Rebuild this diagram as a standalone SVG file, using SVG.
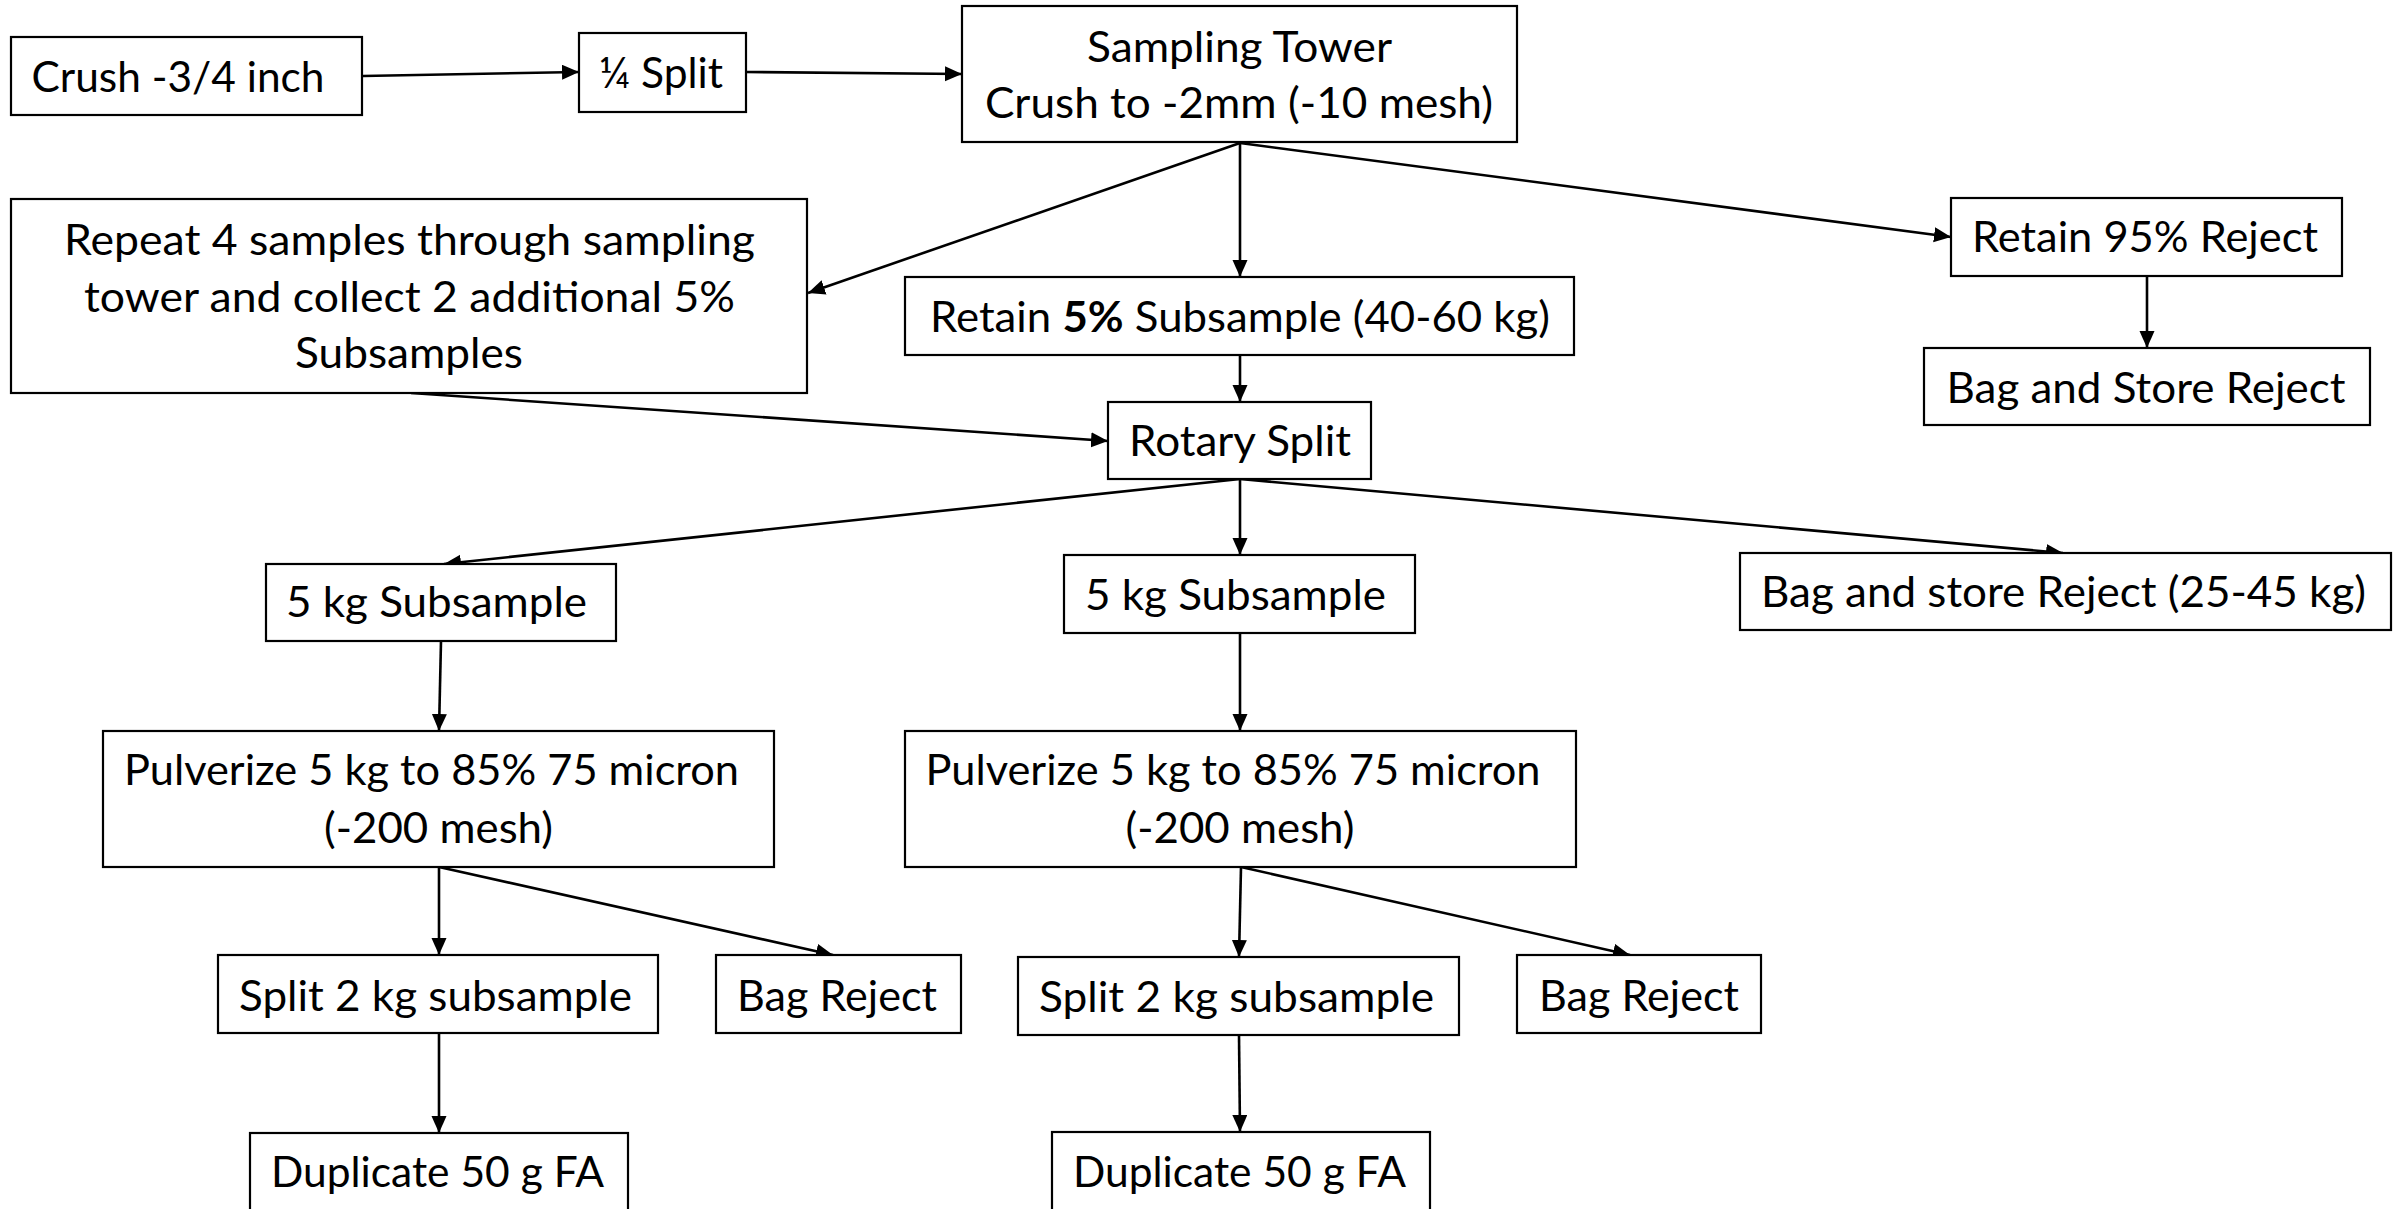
<svg xmlns="http://www.w3.org/2000/svg" width="2407" height="1209" viewBox="0 0 2407 1209">
<style>
.box{fill:#fff;stroke:#000;stroke-width:2.2}
.t{font-family:Lato,"Open Sans","Liberation Sans",sans-serif;font-size:42px;fill:#000;text-anchor:middle}
.c{fill:none;stroke:#000;stroke-width:2.6}
</style>
<defs>
<marker id="ah" markerUnits="userSpaceOnUse" markerWidth="18" markerHeight="16" refX="17" refY="7.5" orient="auto">
<path d="M0,0 L17,7.5 L0,15 z" fill="#000"/>
</marker>
</defs>
<rect width="2407" height="1209" fill="#fff"/>
<g id="connectors">
<line class="c" x1="363" y1="76" x2="579" y2="72" marker-end="url(#ah)"/>
<line class="c" x1="746" y1="72" x2="962" y2="74" marker-end="url(#ah)"/>
<line class="c" x1="1240" y1="143" x2="808" y2="293" marker-end="url(#ah)"/>
<line class="c" x1="1240" y1="143" x2="1240" y2="277" marker-end="url(#ah)"/>
<line class="c" x1="1240" y1="143" x2="1951" y2="237" marker-end="url(#ah)"/>
<line class="c" x1="2147" y1="276" x2="2147" y2="348" marker-end="url(#ah)"/>
<line class="c" x1="1240" y1="355" x2="1240" y2="402" marker-end="url(#ah)"/>
<line class="c" x1="411" y1="393" x2="1108" y2="441" marker-end="url(#ah)"/>
<line class="c" x1="1240" y1="479" x2="444" y2="564" marker-end="url(#ah)"/>
<line class="c" x1="1240" y1="479" x2="1240" y2="555" marker-end="url(#ah)"/>
<line class="c" x1="1240" y1="479" x2="2063" y2="553" marker-end="url(#ah)"/>
<line class="c" x1="441" y1="641" x2="439" y2="731" marker-end="url(#ah)"/>
<line class="c" x1="1240" y1="633" x2="1240" y2="731" marker-end="url(#ah)"/>
<line class="c" x1="439" y1="867" x2="439" y2="955" marker-end="url(#ah)"/>
<line class="c" x1="439" y1="867" x2="833" y2="955" marker-end="url(#ah)"/>
<line class="c" x1="1241" y1="867" x2="1239" y2="957" marker-end="url(#ah)"/>
<line class="c" x1="1241" y1="867" x2="1630" y2="955" marker-end="url(#ah)"/>
<line class="c" x1="439" y1="1033" x2="439" y2="1133" marker-end="url(#ah)"/>
<line class="c" x1="1239" y1="1035" x2="1240" y2="1132" marker-end="url(#ah)"/>
</g>
<g id="n-crush"><rect class="box" x="11" y="37" width="351" height="78"/><text class="t" x="178" y="92" textLength="293" lengthAdjust="spacingAndGlyphs">Crush -3/4 inch</text></g>
<g id="n-quarter"><rect class="box" x="579" y="33" width="167" height="79"/><text class="t" x="661" y="88" textLength="124" lengthAdjust="spacingAndGlyphs">¼ Split</text></g>
<g id="n-tower"><rect class="box" x="962" y="6" width="555" height="136"/><text class="t" x="1239.5" y="62" textLength="305" lengthAdjust="spacingAndGlyphs">Sampling Tower</text><text class="t" x="1239" y="118" textLength="508" lengthAdjust="spacingAndGlyphs">Crush to -2mm (-10 mesh)</text></g>
<g id="n-repeat"><rect class="box" x="11" y="199" width="796" height="194"/><text class="t" x="409.5" y="255" textLength="691" lengthAdjust="spacingAndGlyphs">Repeat 4 samples through sampling</text><text class="t" x="409.5" y="312" textLength="651" lengthAdjust="spacingAndGlyphs">tower and collect 2 additional 5%</text><text class="t" x="409" y="368" textLength="228" lengthAdjust="spacingAndGlyphs">Subsamples</text></g>
<g id="n-retain5"><rect class="box" x="905" y="277" width="669" height="78"/><text class="t" x="1240" y="332" textLength="620" lengthAdjust="spacingAndGlyphs">Retain <tspan font-weight="bold">5%</tspan> Subsample (40-60 kg)</text></g>
<g id="n-retain95"><rect class="box" x="1951" y="198" width="391" height="78"/><text class="t" x="2145" y="252" textLength="346" lengthAdjust="spacingAndGlyphs">Retain 95% Reject</text></g>
<g id="n-bagstore"><rect class="box" x="1924" y="348" width="446" height="77"/><text class="t" x="2146" y="403" textLength="399" lengthAdjust="spacingAndGlyphs">Bag and Store Reject</text></g>
<g id="n-rotary"><rect class="box" x="1108" y="402" width="263" height="77"/><text class="t" x="1240" y="456" textLength="222" lengthAdjust="spacingAndGlyphs">Rotary Split</text></g>
<g id="n-bagstore2"><rect class="box" x="1740" y="553" width="651" height="77"/><text class="t" x="2063.5" y="607" textLength="605" lengthAdjust="spacingAndGlyphs">Bag and store Reject (25-45 kg)</text></g>
<g id="n-5kg-a"><rect class="box" x="266" y="564" width="350" height="77"/><text class="t" x="436.5" y="617" textLength="301" lengthAdjust="spacingAndGlyphs">5 kg Subsample</text></g>
<g id="n-5kg-b"><rect class="box" x="1064" y="555" width="351" height="78"/><text class="t" x="1235.5" y="610" textLength="301" lengthAdjust="spacingAndGlyphs">5 kg Subsample</text></g>
<g id="n-pulv-a"><rect class="box" x="103" y="731" width="671" height="136"/><text class="t" x="431.5" y="785" textLength="615" lengthAdjust="spacingAndGlyphs">Pulverize 5 kg to 85% 75 micron</text><text class="t" x="438.5" y="843" textLength="229" lengthAdjust="spacingAndGlyphs">(-200 mesh)</text></g>
<g id="n-pulv-b"><rect class="box" x="905" y="731" width="671" height="136"/><text class="t" x="1233" y="785" textLength="615" lengthAdjust="spacingAndGlyphs">Pulverize 5 kg to 85% 75 micron</text><text class="t" x="1240" y="843" textLength="229" lengthAdjust="spacingAndGlyphs">(-200 mesh)</text></g>
<g id="n-split-a"><rect class="box" x="218" y="955" width="440" height="78"/><text class="t" x="435.5" y="1011" textLength="393" lengthAdjust="spacingAndGlyphs">Split 2 kg subsample</text></g>
<g id="n-bagrej-a"><rect class="box" x="716" y="955" width="245" height="78"/><text class="t" x="837" y="1011" textLength="200" lengthAdjust="spacingAndGlyphs">Bag Reject</text></g>
<g id="n-split-b"><rect class="box" x="1018" y="957" width="441" height="78"/><text class="t" x="1236.5" y="1012" textLength="395" lengthAdjust="spacingAndGlyphs">Split 2 kg subsample</text></g>
<g id="n-bagrej-b"><rect class="box" x="1517" y="955" width="244" height="78"/><text class="t" x="1639" y="1011" textLength="200" lengthAdjust="spacingAndGlyphs">Bag Reject</text></g>
<g id="n-dup-a"><rect class="box" x="250" y="1133" width="378" height="80"/><text class="t" x="437.5" y="1187" textLength="333" lengthAdjust="spacingAndGlyphs">Duplicate 50 g FA</text></g>
<g id="n-dup-b"><rect class="box" x="1052" y="1132" width="378" height="80"/><text class="t" x="1239.5" y="1187" textLength="333" lengthAdjust="spacingAndGlyphs">Duplicate 50 g FA</text></g>
</svg>
